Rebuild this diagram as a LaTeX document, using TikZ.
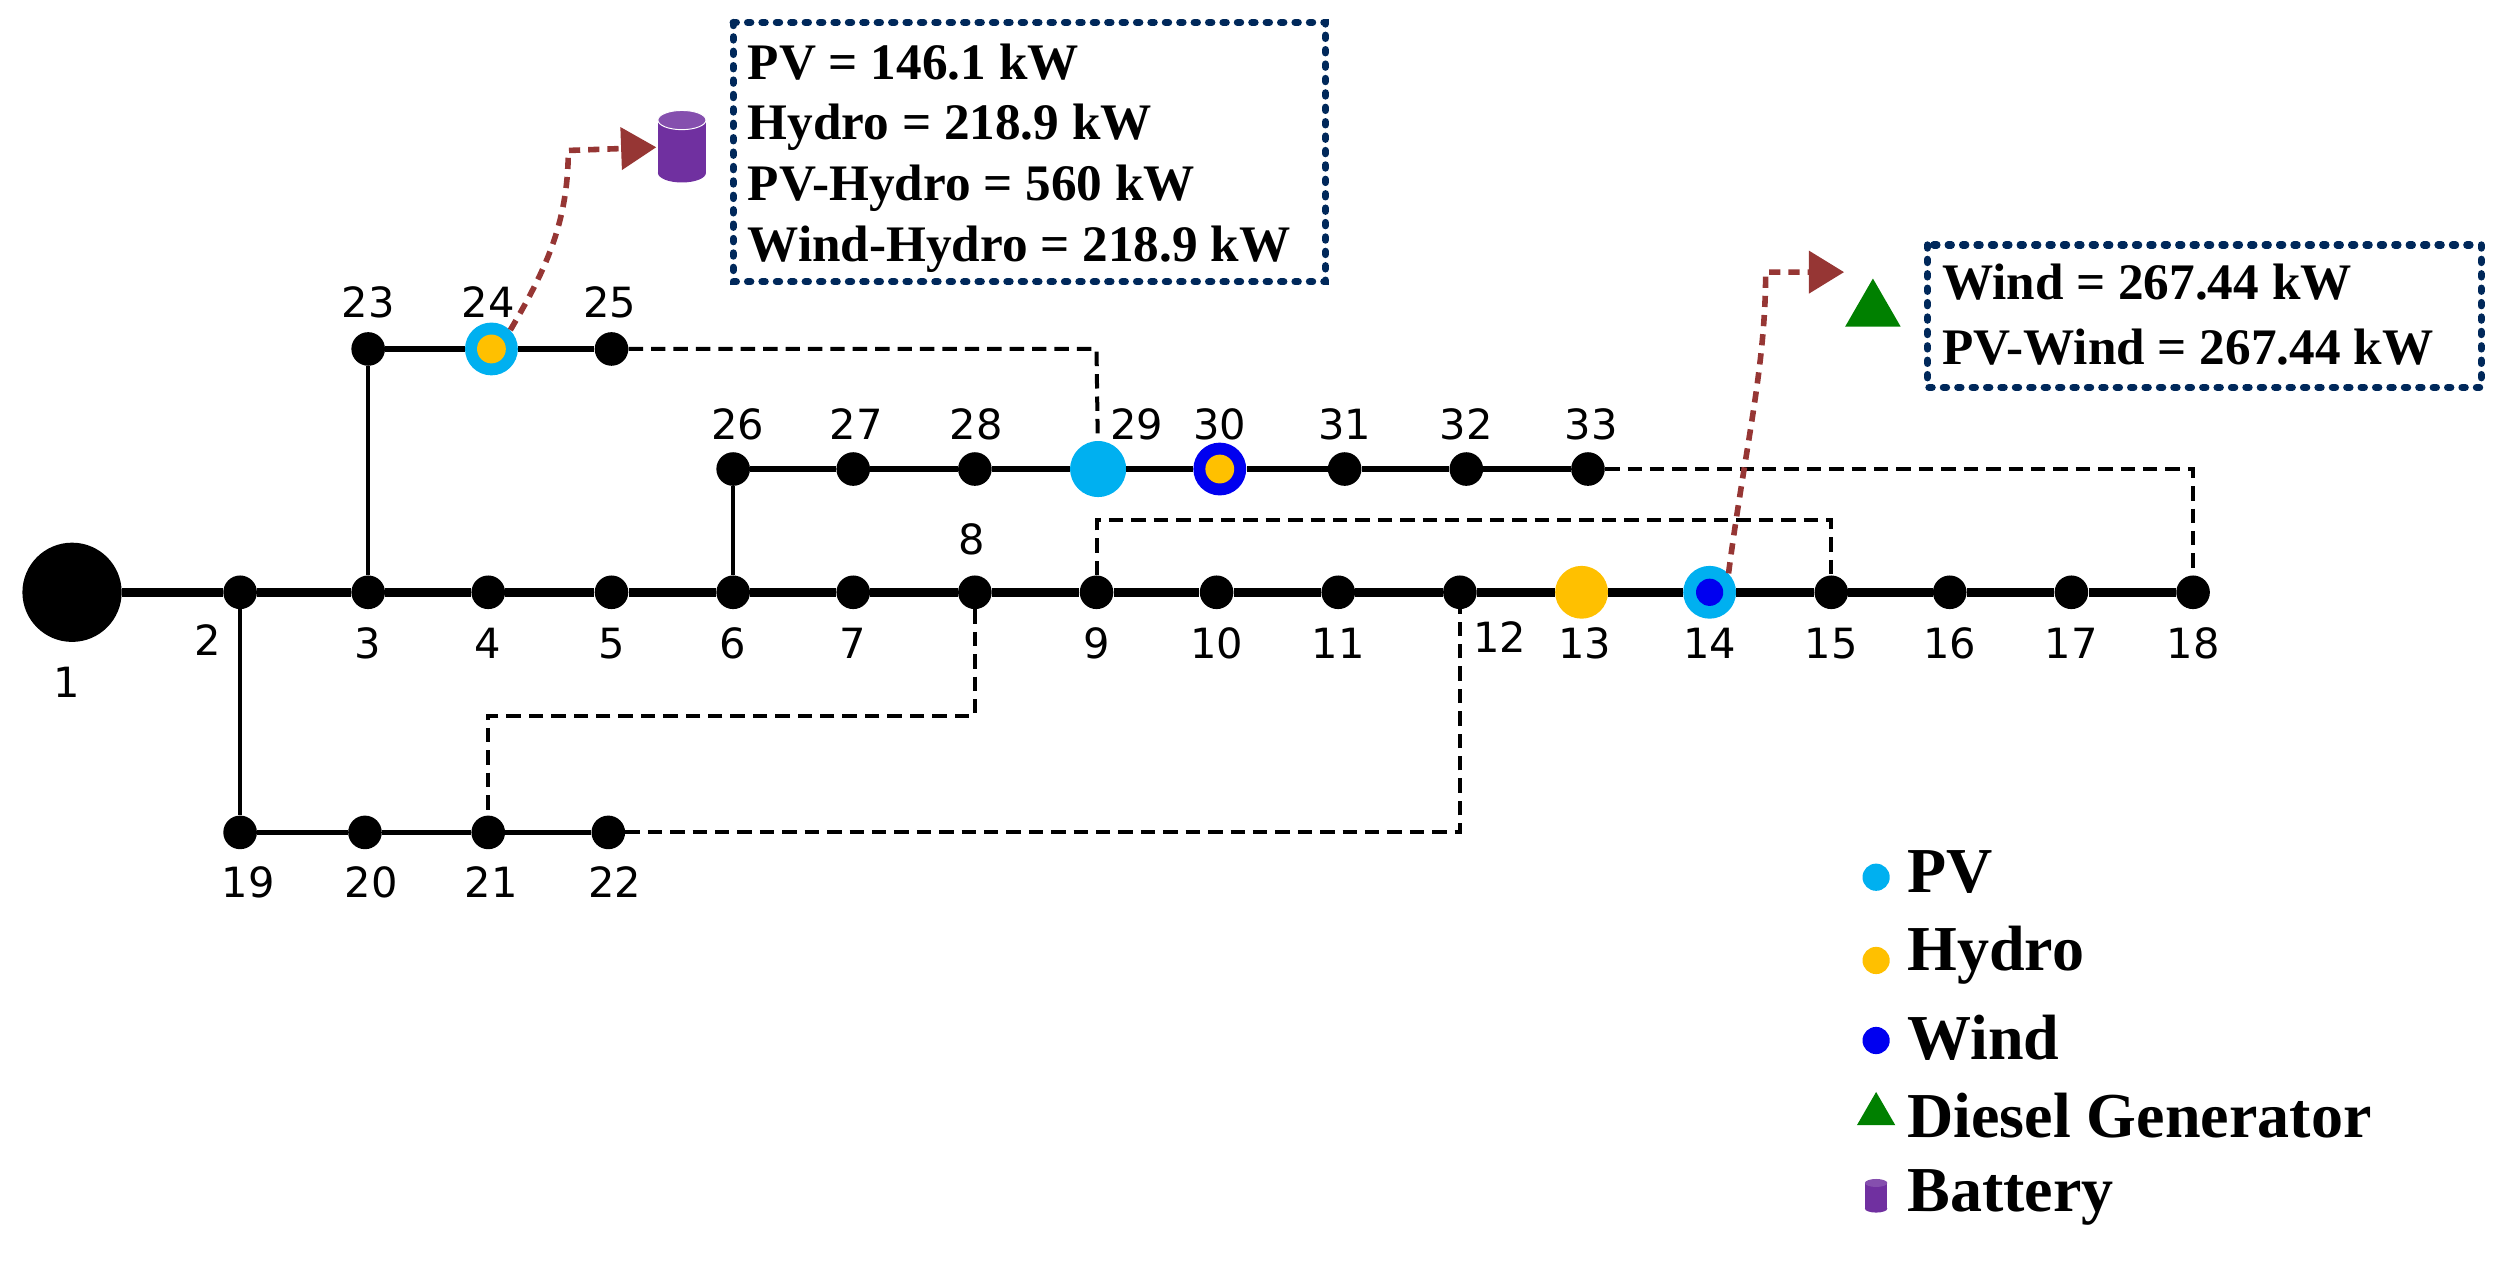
\documentclass[tikz,border=0pt]{standalone}
\usepackage{fontspec}
\setmainfont{Liberation Serif}
\newfontfamily\numfont{DejaVu Sans}
\usetikzlibrary{arrows.meta,shapes.geometric}
\definecolor{pvc}{RGB}{0,176,240}
\definecolor{hyc}{RGB}{255,192,0}
\definecolor{wic}{RGB}{0,0,240}
\definecolor{arc}{RGB}{150,54,52}
\definecolor{bxc}{RGB}{0,40,90}
\definecolor{batc}{RGB}{112,48,160}
\definecolor{dgc}{RGB}{0,128,0}
\begin{document}
\begin{tikzpicture}[x=1pt,y=-1pt,
  bus/.style={circle,fill=black,inner sep=0pt,minimum size=21pt},
  lab/.style={font=\numfont\fontsize{26}{26}\selectfont},
  tie/.style={line width=2.5pt,dash pattern=on 9pt off 5pt},
  flow/.style={arc,line width=3.5pt,dash pattern=on 7pt off 5pt,-{Triangle[length=22pt,width=26pt]}},
  dotbox/.style={draw=bxc,line width=4.5pt,line cap=round,dash pattern=on 2pt off 7pt},
  legtxt/.style={anchor=west,font=\bfseries\fontsize{40}{40}\selectfont}]
\useasboundingbox (0,0) rectangle (1568,789);
% nodes
\node[circle,fill=black,minimum size=62pt,inner sep=0pt] (n1) at (45,370) {};
\foreach \i/\x in {2/150,3/230,4/305,5/382,6/458,7/533,8/609,9/685,10/760,11/836,12/912,15/1144,16/1218,17/1294,18/1370}
  \node[bus] (n\i) at (\x,370) {};
\node[circle,fill=hyc,minimum size=33pt,inner sep=0pt] (n13) at (988,370) {};
\node[circle,fill=pvc,minimum size=33pt,inner sep=0pt] (n14) at (1068,370) {};
\node[circle,fill=wic,minimum size=17pt,inner sep=0pt] at (1068,370) {};
\foreach \i/\x in {26/458,27/533,28/609,31/840,32/916,33/992}
  \node[bus] (n\i) at (\x,293) {};
\node[circle,fill=pvc,minimum size=35pt,inner sep=0pt] (n29) at (686,293) {};
\node[circle,fill=wic,minimum size=33pt,inner sep=0pt] (n30) at (762,293) {};
\node[circle,fill=hyc,minimum size=18pt,inner sep=0pt] at (762,293) {};
\node[bus] (n23) at (230,218) {};
\node[circle,fill=pvc,minimum size=33pt,inner sep=0pt] (n24) at (307,218) {};
\node[circle,fill=hyc,minimum size=18pt,inner sep=0pt] at (307,218) {};
\node[bus] (n25) at (382,218) {};
\foreach \i/\x in {19/150,20/228,21/305,22/380}
  \node[bus] (n\i) at (\x,520) {};
% lines
\draw[line width=5.5pt] (n1) -- (n2) -- (n3) -- (n4) -- (n5) -- (n6) -- (n7) -- (n8) -- (n9) -- (n10) -- (n11) -- (n12) -- (n13) -- (n14) -- (n15) -- (n16) -- (n17) -- (n18);
\draw[line width=3.5pt] (n26) -- (n27) -- (n28) -- (n29) -- (n30) -- (n31) -- (n32) -- (n33);
\draw[line width=2.5pt] (n6) -- (n26);
\draw[line width=2.5pt] (n3) -- (n23);
\draw[line width=3.5pt] (n23) -- (n24) -- (n25);
\draw[line width=2.5pt] (n2) -- (n19);
\draw[line width=3.5pt] (n19) -- (n20) -- (n21) -- (n22);
% tie lines
\draw[tie] (n25) -- (685,218) -- (n29);
\draw[tie] (n9) -- (685,325) -- (1144,325) -- (n15);
\draw[tie] (n33) -- (1370,293) -- (n18);
\draw[tie] (n8) -- (609,447) -- (305,447) -- (n21);
\draw[tie] (n22) -- (912,520) -- (n12);
% labels
\foreach \i/\x in {3/230,4/305,5/382,6/458,7/533,9/685,10/760,11/836,13/990,14/1068,15/1144,16/1218,17/1294,18/1370}
  \node[lab] at (\x,402) {\i};
\node[lab] at (130,400) {2};
\node[lab] at (937,398) {12};
\node[lab] at (42,426) {1};
\node[lab] at (607,337) {8};
\foreach \i/\x in {26/461,27/535,28/610,29/710,30/762,31/840,32/916,33/994}
  \node[lab] at (\x,265) {\i};
\foreach \i/\x in {23/230,24/305,25/381}
  \node[lab] at (\x,189) {\i};
\foreach \i/\x in {19/155,20/232,21/307,22/384}
  \node[lab] at (\x,551) {\i};
% battery
\fill[batc] (411,75) rectangle (441,108);
\fill[batc] (426,108) ellipse (15pt and 6pt);
\fill[batc!85!white] (426,75) ellipse (15pt and 6pt);
\draw[white,line width=0.6pt] (426,75) ellipse (15pt and 6pt);
\coordinate (bat) at (410,92);
% diesel
\node[isosceles triangle,isosceles triangle apex angle=60,shape border rotate=90,fill=dgc,minimum width=34pt,minimum height=30pt,inner sep=0pt] (dg) at (1170,194) {};
% flows
\coordinate (f1) at (355,94);
\draw[flow] (n24.north east) .. controls (340,170) and (355,140) .. (f1) -- (bat);
\coordinate (f2) at (1103,170);
\draw[flow] (n14.north east) .. controls (1090,280) and (1103,230) .. (f2) -- (1152,170);
% boxes
\draw[dotbox] (458,14) rectangle (828,176);
\node[anchor=north west,align=left,inner sep=0pt,font=\bfseries\fontsize{32}{38}\selectfont] (b1) at (467,27) {PV = 146.1 kW\\Hydro = 218.9 kW\\PV-Hydro = 560 kW\\Wind-Hydro = 218.9 kW};
\draw[dotbox] (1204,153) rectangle (1550,242);
\node[anchor=north west,align=left,inner sep=0pt,font=\bfseries\fontsize{32}{40}\selectfont] (b2) at (1213,165) {Wind = 267.44 kW\\PV-Wind = 267.44 kW};
% legend
\node[circle,fill=pvc,minimum size=17pt,inner sep=0pt] (l1) at (1172,548) {};
\node[legtxt] at (1188,545) {PV};
\node[circle,fill=hyc,minimum size=17pt,inner sep=0pt] (l2) at (1172,600) {};
\node[legtxt] at (1188,597) {Hydro};
\node[circle,fill=wic,minimum size=17pt,inner sep=0pt] (l3) at (1172,650) {};
\node[legtxt] at (1188,648) {Wind};
\node[isosceles triangle,isosceles triangle apex angle=60,shape border rotate=90,fill=dgc,minimum width=24pt,minimum height=20pt,inner sep=0pt] (l4) at (1172,696) {};
\node[legtxt] at (1188,697) {Diesel Generator};
\fill[batc] (1165,739) rectangle (1179,755);
\fill[batc] (1172,755) ellipse (7pt and 2.5pt);
\fill[batc!85!white] (1172,739) ellipse (7pt and 2.5pt);
\node[legtxt] at (1188,748) {Battery};
\end{tikzpicture}
\end{document}
